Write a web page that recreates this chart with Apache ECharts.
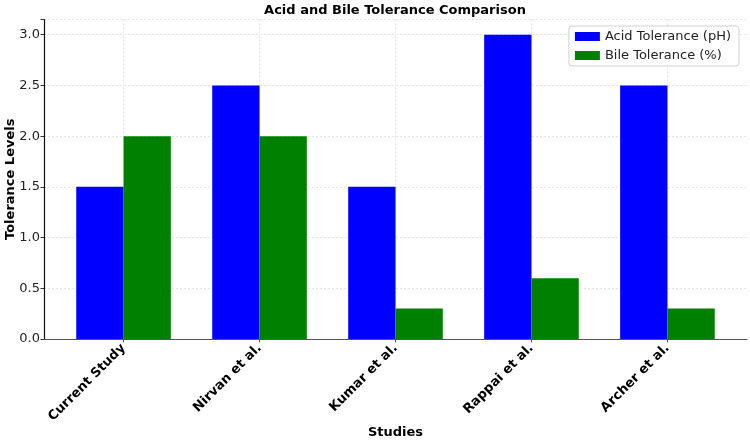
<!DOCTYPE html>
<html>
<head>
<meta charset="utf-8">
<script src="https://cdn.jsdelivr.net/npm/echarts@6/dist/echarts.min.js"></script>
<style>
  html, body { margin: 0; padding: 0; background: #fff; }
  #chart { width: 750px; height: 441px; }
</style>
</head>
<body>
<div id="chart"></div>
<script>
// 数据
const studies = ['Current Study', 'Nirvan et al.', 'Kumar et al.', 'Rappai et al.', 'Archer et al.']
const acidTolerance = [1.5, 2.5, 1.5, 3.0, 2.5]
const bileTolerance = [2.0, 2.0, 0.3, 0.6, 0.3]
const yTicks = [0, 0.5, 1.0, 1.5, 2.0, 2.5, 3.0]

const font = 'DejaVu Sans'
const chart = echarts.init(document.getElementById('chart'))

chart.setOption({
  animation: false,
  title: {
    text: 'Acid and Bile Tolerance Comparison',
    left: 395,
    textAlign: 'center',
    top: 4,
    padding: 0,
    textStyle: { fontFamily: font, fontSize: 13, fontWeight: 'bold', color: '#000' }
  },
  legend: {
    orient: 'vertical',
    right: 11,
    top: 26,
    icon: 'rect',
    itemWidth: 25,
    itemHeight: 9,
    itemGap: 4,
    padding: [3, 8, 3, 6],
    borderColor: '#d0d0d0',
    borderWidth: 1,
    borderRadius: 3,
    backgroundColor: 'rgba(255,255,255,0.8)',
    textStyle: { fontFamily: font, fontSize: 13, lineHeight: 15, color: '#222' },
    data: ['Acid Tolerance (pH)', 'Bile Tolerance (%)']
  },
  grid: { left: 44, right: 3, top: 19.5, bottom: 102, containLabel: false, outerBoundsMode: 'none' },
  xAxis: {
    type: 'value',
    min: -0.585,
    max: studies.length - 1 + 0.585,
    name: 'Studies',
    nameLocation: 'middle',
    nameGap: 87,
    nameMoveOverlap: false,
    nameTextStyle: { fontFamily: font, fontSize: 13, fontWeight: 'bold', color: '#000' },
    axisLine: { show: true, onZero: false, lineStyle: { color: '#555', width: 1.2 } },
    axisTick: { show: true, length: 3.5, lineStyle: { color: '#555' }, customValues: studies.map((s, i) => i) },
    axisLabel: {
      customValues: studies.map((s, i) => i),
      formatter: v => studies[Math.round(v)],
      rotate: 45,
      margin: 7,
      fontFamily: font,
      fontSize: 13,
      fontWeight: 'bold',
      color: '#000'
    },
    splitLine: { show: true, lineStyle: { color: '#ddd', type: [2, 2], width: 0.8 } }
  },
  yAxis: {
    type: 'value',
    min: 0,
    max: 3.15,
    interval: 0.5,
    name: 'Tolerance Levels',
    nameLocation: 'middle',
    nameGap: 27,
    nameMoveOverlap: false,
    nameTextStyle: { fontFamily: font, fontSize: 13, fontWeight: 'bold', color: '#000' },
    axisLine: { show: true, onZero: false, lineStyle: { color: '#111', width: 1.2 } },
    axisTick: { show: true, length: 3.5, lineStyle: { color: '#333' } },
    axisLabel: {
      customValues: yTicks,
      formatter: v => v.toFixed(1),
      margin: 4,
      fontFamily: font,
      fontSize: 13,
      color: '#222'
    },
    splitLine: { show: true, lineStyle: { color: '#ddd', type: [2, 2], width: 0.8 } }
  },
  series: [
    {
      name: 'Acid Tolerance (pH)',
      type: 'bar',
      barWidth: 47.3,
      barGap: '0%',
      itemStyle: { color: '#0000ff' },
      data: studies.map((s, i) => [i, acidTolerance[i]])
    },
    {
      name: 'Bile Tolerance (%)',
      type: 'bar',
      barWidth: 47.3,
      barGap: '0%',
      itemStyle: { color: '#008000' },
      data: studies.map((s, i) => [i, bileTolerance[i]])
    }
  ]
})
</script>
</body>
</html>
